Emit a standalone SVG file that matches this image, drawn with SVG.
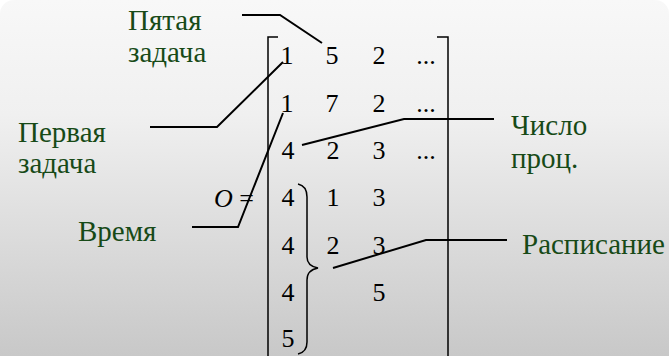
<svg xmlns="http://www.w3.org/2000/svg" width="669" height="356" viewBox="0 0 669 356">
<defs>
<linearGradient id="bg" x1="0" y1="0" x2="0" y2="1">
<stop offset="0" stop-color="#f8f8f8"/>
<stop offset="0.3" stop-color="#f0f0f0"/>
<stop offset="1" stop-color="#c4c4c4"/>
</linearGradient>
<style>
text{font-family:'Liberation Serif','Times New Roman',serif}
.lbl{font-size:29px;fill:#174a17}
.m{font-size:26px;fill:#000;text-anchor:middle}
.ln{fill:none;stroke:#000;stroke-width:2}
.br{fill:none;stroke:#000;stroke-width:1.5}
</style>
</defs>
<rect x="0" y="0" width="669" height="356" fill="#ffffff"/>
<rect x="0" y="0" width="669" height="380" rx="14" fill="url(#bg)"/>

<g id="matrix">
<path class="br" d="M278 37 H268 V356"/>
<path class="br" d="M437 37 H448 V356"/>
<path class="br" d="M298 184 Q307 186 307 197 V257 Q307 266 318 268 Q307 270 307 280 V342 Q307 352 298 354"/>
<text class="m" x="287" y="64">1</text><text class="m" x="332" y="64">5</text><text class="m" x="379" y="64">2</text><text class="m" x="426" y="64">...</text>
<text class="m" x="287" y="112">1</text><text class="m" x="332" y="112">7</text><text class="m" x="379" y="112">2</text><text class="m" x="426" y="112">...</text>
<text class="m" x="288" y="159">4</text><text class="m" x="333" y="159">2</text><text class="m" x="379" y="159">3</text><text class="m" x="426" y="159">...</text>
<text class="m" x="288" y="206">4</text><text class="m" x="333" y="206">1</text><text class="m" x="379" y="206">3</text>
<text class="m" x="288" y="254">4</text><text class="m" x="333" y="254">2</text><text class="m" x="379" y="254">3</text>
<text class="m" x="288" y="301">4</text><text class="m" x="379" y="301">5</text>
<text class="m" x="288" y="347">5</text>
<text class="m" x="234" y="207"><tspan font-style="italic">O</tspan> =</text>
</g>

<g id="n-fifth"><text class="lbl" x="128" y="30">Пятая</text><text class="lbl" x="128" y="62">задача</text></g>
<g id="n-first"><text class="lbl" x="18" y="142">Первая</text><text class="lbl" x="18" y="173">задача</text></g>
<g id="n-time"><text class="lbl" x="78" y="241">Время</text></g>
<g id="n-proc"><text class="lbl" x="511" y="135">Число</text><text class="lbl" x="511" y="168">проц.</text></g>
<g id="n-sched"><text class="lbl" x="522" y="254">Расписание</text></g>

<g id="connectors">
<path class="ln" d="M242 15 H280 L322 43"/>
<path class="ln" d="M150 127 H217 L283 62"/>
<path class="ln" d="M192 227 H238 L283 113"/>
<path class="ln" d="M494 119 H404 L302 145"/>
<path class="ln" d="M507 240 H426 L333 268"/>
</g>
</svg>
